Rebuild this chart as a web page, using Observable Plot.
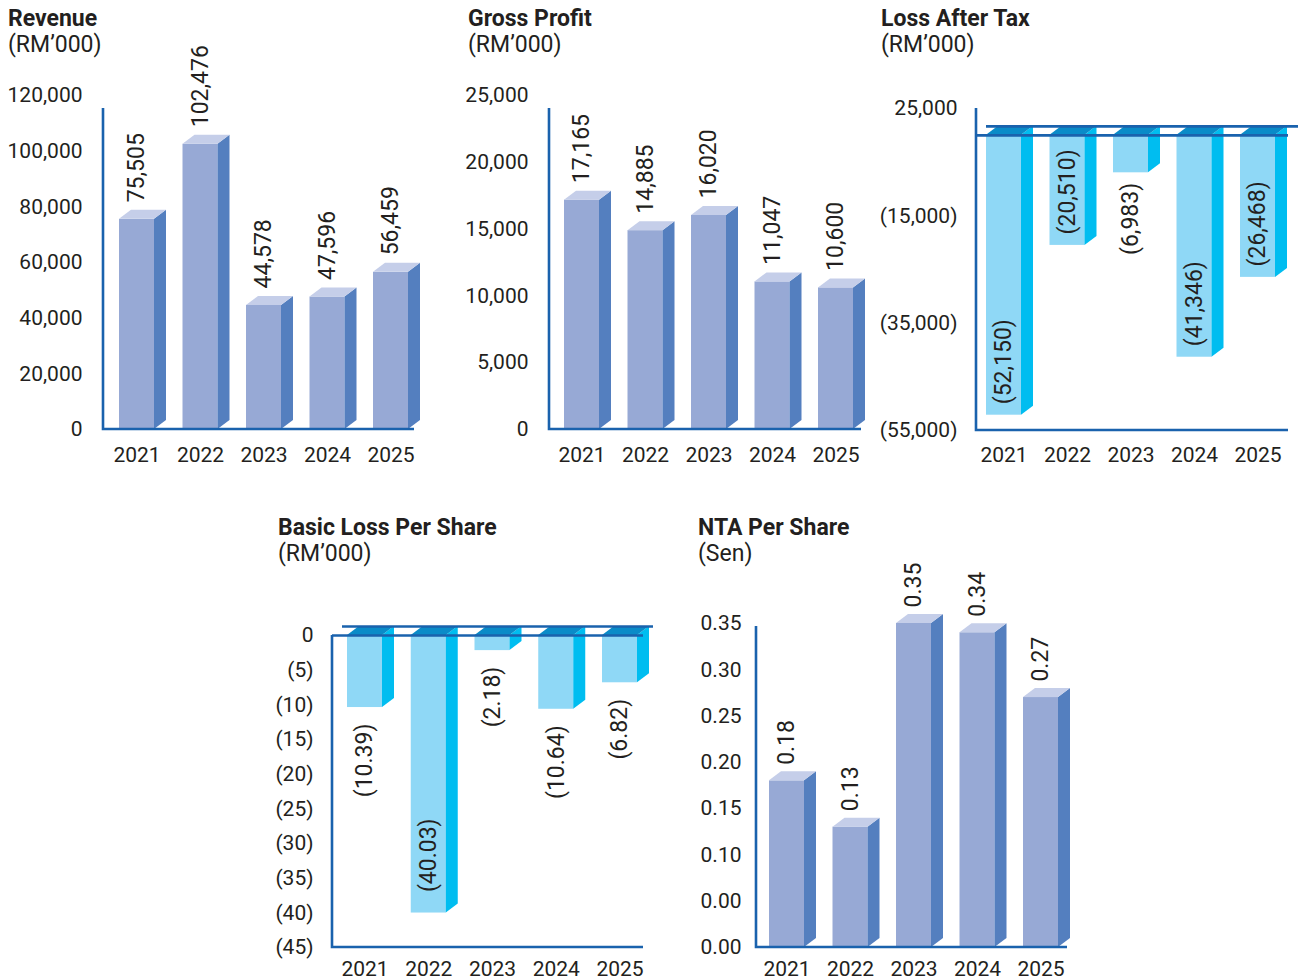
<!DOCTYPE html>
<html><head><meta charset="utf-8">
<script src="https://cdn.jsdelivr.net/npm/d3@7"></script>
<script src="https://cdn.jsdelivr.net/npm/@observablehq/plot@0.6"></script>
<style>
html,body{margin:0;padding:0;background:#fff}
body{width:1299px;height:980px;overflow:hidden;position:relative;font-family:Roboto,sans-serif;color:#231f20}
.title{position:absolute;font-size:23px;line-height:26px;white-space:nowrap;z-index:2}
.title b{font-weight:700;display:block}
.chart{position:absolute}
.chart svg{max-width:none}
</style></head><body>
<script>
// ---- data ----
const years = ["2021", "2022", "2023", "2024", "2025"];
const revenue = [75505, 102476, 44578, 47596, 56459];
const grossProfit = [17165, 14885, 16020, 11047, 10600];
const lossAfterTax = [-52150, -20510, -6983, -41346, -26468];
const basicLossPerShare = [-10.39, -40.03, -2.18, -10.64, -6.82];
const ntaPerShare = [0.18, 0.13, 0.35, 0.34, 0.27];

const revenueTicks = [0, 20000, 40000, 60000, 80000, 100000, 120000];
const revenueTickLabels = ["0", "20,000", "40,000", "60,000", "80,000", "100,000", "120,000"];
const grossProfitTicks = [0, 5000, 10000, 15000, 20000, 25000];
const grossProfitTickLabels = ["0", "5,000", "10,000", "15,000", "20,000", "25,000"];
const lossTicks = [5000, -15000, -35000, -55000];
const lossTickLabels = ["25,000", "(15,000)", "(35,000)", "(55,000)"];
const blpsTicks = [0, -5, -10, -15, -20, -25, -30, -35, -40, -45];
const blpsTickLabels = ["0", "(5)", "(10)", "(15)", "(20)", "(25)", "(30)", "(35)", "(40)", "(45)"];
const ntaTicks = [0, 0.05, 0.1, 0.15, 0.2, 0.25, 0.3, 0.35];
const ntaTickLabels = ["0.00", "0.00", "0.10", "0.15", "0.20", "0.25", "0.30", "0.35"];

// ---- styles ----
const AXIS = "#1a62ad";
const POS = {front: "#97a9d5", side: "#547fbf", top: "#c5cee9"};
const NEG = {front: "#8fd8f6", side: "#00bdf0", top: "#0a8bc8"};
const DX = 12, DY = -9;
const TICK_FS = 21, YEAR_FS = 21, LABEL_FS = 23;

const fmtInt = d3.format(",");
const fmt2 = d3.format(".2f");

const charts = [
  {title: "Revenue", unit: "(RM’000)", tpos: [8, 6], values: revenue, fmt: fmtInt,
   ticks: revenueTicks, tickLabels: revenueTickLabels, box: [0, 60, 435, 420], frame: [103, 414, 108, 429],
   yDomain: [0, 120000], yRange: [429, 95], bar0: 119, step: 63.5, tickPad: 21, yearPad: 18, pal: POS, labelDy: -17},
  {title: "Gross Profit", unit: "(RM’000)", tpos: [468, 6], values: grossProfit, fmt: fmtInt,
   ticks: grossProfitTicks, tickLabels: grossProfitTickLabels, box: [440, 60, 430, 420], frame: [549, 861, 108, 429],
   yDomain: [0, 25000], yRange: [429, 95], bar0: 564, step: 63.5, tickPad: 21, yearPad: 18, pal: POS, labelDy: -17},
  {title: "Loss After Tax", unit: "(RM’000)", tpos: [881, 6], values: lossAfterTax, fmt: v => `(${fmtInt(-v)})`,
   ticks: lossTicks, tickLabels: lossTickLabels, box: [870, 60, 429, 420], frame: [976, 1288, 108, 430],
   yDomain: [5000, -55000], yRange: [108, 430], bar0: 986, step: 63.5, tickPad: 19, yearPad: 17, pal: NEG,
   negative: true, insideMin: 15000, inDy: -11, outDy: 10},
  {title: "Basic Loss Per Share", unit: "(RM’000)", tpos: [278, 515], values: basicLossPerShare, fmt: v => `(${fmt2(-v)})`,
   ticks: blpsTicks, tickLabels: blpsTickLabels, box: [260, 540, 420, 440], frame: [332, 643, 635, 947],
   yDomain: [0, -45], yRange: [635, 947], bar0: 347, step: 63.75, tickPad: 19, yearPad: 14, pal: NEG,
   negative: true, insideMin: 30, inDy: -21, outDy: 16},
  {title: "NTA Per Share", unit: "(Sen)", tpos: [698, 515], values: ntaPerShare, fmt: fmt2,
   ticks: ntaTicks, tickLabels: ntaTickLabels, box: [680, 540, 420, 440], frame: [756, 1067, 626, 947],
   yDomain: [0, 0.35], yRange: [947, 623], bar0: 769, step: 63.5, tickPad: 15, yearPad: 14, pal: POS, labelDy: -16}
];

function bars3d(data, pal) {
  return Plot.barY(data, {
    x: "year", y1: 0, y2: "value", fill: pal.front,
    render(index, scales, values, dims, context, next) {
      const front = next(index, scales, values, dims, context);
      const g = d3.create("svg:g");
      g.append(() => front);
      const sx = scales.x;
      const bw = typeof sx.bandwidth === "function" ? sx.bandwidth() : scales.scales.x.bandwidth;
      const X = values.x, Y1 = values.y1, Y2 = values.y2;
      for (const i of index) {
        const x0 = X[i], x1 = x0 + bw;
        const yt = Math.min(Y1[i], Y2[i]), yb = Math.max(Y1[i], Y2[i]);
        g.append("path").attr("fill", pal.side)
          .attr("d", `M${x1},${yt}L${x1 + DX},${yt + DY}L${x1 + DX},${yb + DY}L${x1},${yb}Z`);
        g.append("path").attr("fill", pal.top)
          .attr("d", `M${x0},${yt}L${x1},${yt}L${x1 + DX},${yt + DY}L${x0 + DX},${yt + DY}Z`);
      }
      return g.node();
    }
  });
}

function axisLines(index, scales, values, dims) {
  const {marginLeft: ml, marginTop: mt, marginRight: mr, marginBottom: mb, width: w, height: h} = dims;
  return d3.create("svg:path").attr("fill", "none").attr("stroke", AXIS).attr("stroke-width", 2.6)
    .attr("d", `M${ml},${mt}V${h - mb}H${w - mr}`).node();
}

for (const c of charts) {
  const t = document.createElement("div");
  t.className = "title";
  t.style.left = c.tpos[0] + "px";
  t.style.top = c.tpos[1] + "px";
  t.innerHTML = `<b>${c.title}</b>${c.unit}`;
  document.body.appendChild(t);

  const [bx, by, bw, bh] = c.box;
  const [fl, fr, ft, fb] = c.frame;
  const pi = 1 - 35 / c.step;
  const r0 = c.bar0, r1 = c.bar0 + c.step * (years.length - pi);
  const data = years.map((year, i) => ({year, value: c.values[i], label: c.fmt(c.values[i])}));
  const tickMap = new Map(c.ticks.map((v, i) => [v, c.tickLabels[i]]));

  const marks = [bars3d(data, c.pal)];
  if (c.negative) {
    marks.push(Plot.ruleY([0], {stroke: AXIS, strokeWidth: 2.6}));
    marks.push(Plot.ruleY([0], {stroke: AXIS, strokeWidth: 2.6, dx: 10, dy: -9}));
    marks.push(Plot.text(data.filter(d => -d.value >= c.insideMin), {x: "year", y: "value", text: "label",
      rotate: -90, textAnchor: "start", dy: c.inDy, fontSize: LABEL_FS, fill: "#231f20"}));
    marks.push(Plot.text(data.filter(d => -d.value < c.insideMin), {x: "year", y: "value", text: "label",
      rotate: -90, textAnchor: "end", dy: c.outDy, fontSize: LABEL_FS, fill: "#231f20"}));
  } else {
    marks.push(Plot.text(data, {x: "year", y: "value", text: "label", rotate: -90, textAnchor: "start",
      dy: c.labelDy, fontSize: LABEL_FS, fill: "#231f20"}));
  }
  marks.push(axisLines);
  marks.push(Plot.axisY({ticks: c.ticks, tickFormat: d => tickMap.get(d), tickSize: 0, tickPadding: c.tickPad,
    fontSize: TICK_FS, label: null}));
  marks.push(Plot.axisX({tickSize: 0, tickPadding: c.yearPad, fontSize: YEAR_FS, label: null}));

  const plot = Plot.plot({
    width: bw, height: bh,
    marginLeft: fl - bx, marginRight: bx + bw - fr, marginTop: ft - by, marginBottom: by + bh - fb,
    x: {type: "band", domain: years, range: [r0 - bx, r1 - bx], paddingInner: pi, paddingOuter: 0, align: 0, round: false},
    y: {domain: c.yDomain, range: [c.yRange[0] - by, c.yRange[1] - by]},
    style: {fontFamily: "Roboto, sans-serif", fontSize: "20px", color: "#231f20", background: "transparent", overflow: "visible"},
    marks
  });
  const wrap = document.createElement("div");
  wrap.className = "chart";
  wrap.style.left = bx + "px";
  wrap.style.top = by + "px";
  wrap.appendChild(plot);
  document.body.appendChild(wrap);
}
</script>
</body></html>
